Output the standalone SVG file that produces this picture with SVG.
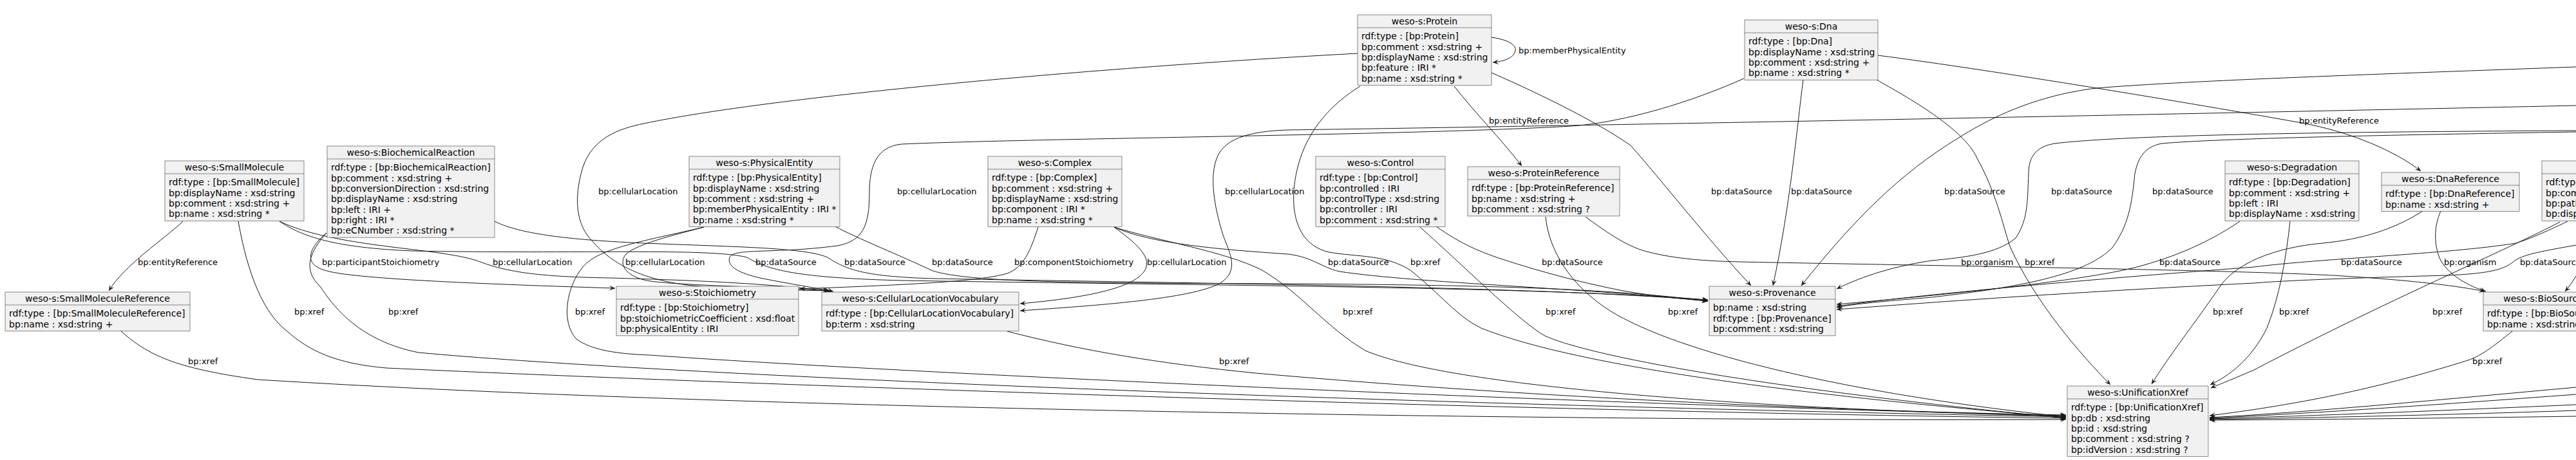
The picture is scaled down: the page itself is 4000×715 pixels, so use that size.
<svg xmlns="http://www.w3.org/2000/svg" width="4000" height="715" viewBox="0 0 4000 715">
<defs>
<style>
.nd rect{fill:#F1F1F1;stroke:#181818;stroke-width:0.5}
.nd line{stroke:#181818;stroke-width:0.5}
.hd{font-family:"DejaVu Sans",sans-serif;font-size:14px;text-anchor:middle;fill:#000}
.at{font-family:"DejaVu Sans",sans-serif;font-size:14px;fill:#000}
.e{fill:none;stroke:#181818;stroke-width:1;marker-end:url(#ah)}
.lb{font-family:"DejaVu Sans",sans-serif;font-size:13px;fill:#000}
</style>
<marker id="ah" viewBox="-10 -5 11 10" refX="0" refY="0" markerWidth="11" markerHeight="10" markerUnits="userSpaceOnUse" orient="auto">
<path d="M0,0 L-9,-4 L-5,0 L-9,4 Z" fill="#181818"/>
</marker>
</defs>
<rect x="0" y="0" width="4000" height="715" fill="#FFFFFF"/>

<g id="connectors">
<path class="e" d="M284,344 C255,372 195,410 169,452"/>
<path class="e" d="M187,514 C230,552 270,572 400,590 C1200,640 2600,655 3208,652"/>
<path class="e" d="M370,344 C380,400 400,480 446,515 C480,545 520,565 600,572 C1200,600 2400,640 3208,650"/>
<path class="e" d="M507,362 C480,392 470,420 497,445 C520,480 560,530 650,548 C1000,580 2000,625 3208,648"/>
<path class="e" d="M507,362 C480,385 470,410 504,420 C540,432 700,440 955,448"/>
<path class="e" d="M434,344 C470,368 520,385 640,390 C900,395 1100,385 1160,400 C1195,422 1250,432 1400,436 C1900,444 2400,446 2652,466"/>
<path class="e" d="M768,344 C800,360 860,372 1000,378 C1150,384 1250,385 1285,400 C1315,420 1345,430 1450,433 C1900,441 2400,446 2652,467"/>
<path class="e" d="M1297,352 C1330,370 1400,398 1446,420 C1500,440 1700,440 2000,441 C2300,443 2500,448 2652,468"/>
<path class="e" d="M1730,353 C1790,380 1900,388 2000,395 C2040,400 2050,415 2080,422 C2200,440 2450,447 2652,468"/>
<path class="e" d="M2230,352 C2270,380 2300,392 2330,402 C2400,425 2460,440 2520,452 C2580,462 2620,465 2652,468"/>
<path class="e" d="M434,344 C520,385 680,385 740,405 C780,420 820,430 946,432 C1100,436 1200,442 1286,452"/>
<path class="e" d="M1093,353 C1060,362 990,378 972,395 C958,412 975,432 1010,437 C1060,444 1200,446 1288,452"/>
<path class="e" d="M1093,353 C1000,375 930,385 905,415 C880,445 870,500 895,527 C920,545 960,550 1010,552 C1400,580 2500,630 3208,646"/>
<path class="e" d="M2108,83 C1700,105 1200,150 1000,192 C960,200 920,215 905,260 C890,310 895,350 920,375 C950,410 1000,440 1100,446 C1180,450 1240,451 1290,452"/>
<path class="e" d="M2708,122 C2600,170 2500,192 2440,196 C2200,210 1600,215 1400,224 C1360,228 1350,260 1350,300 C1350,350 1340,375 1300,382 C1200,395 1140,385 1133,400 C1128,415 1150,425 1180,432 C1230,442 1270,448 1294,453"/>
<path class="e" d="M4000,164 C3500,175 2500,195 2000,202 C1940,204 1910,215 1895,235 C1875,265 1885,320 1899,365 C1910,395 1925,420 1895,440 C1850,465 1700,475 1584,483"/>
<path class="e" d="M1730,353 C1760,375 1785,395 1780,415 C1772,440 1720,460 1584,472"/>
<path class="e" d="M1612,353 C1600,390 1590,415 1564,425 C1520,438 1400,443 1242,449"/>
<path class="e" d="M1730,353 C1800,375 1900,390 1960,420 C2020,455 2060,510 2120,545 C2250,600 2700,635 3208,647"/>
<path class="e" d="M1564,515 C1680,545 1800,565 1950,580 C2400,620 2900,640 3208,645"/>
<path class="e" d="M2316,58 C2345,62 2355,72 2353,78 C2352,88 2340,95 2318,97"/>
<path class="e" d="M2258,134 C2290,175 2330,215 2363,258"/>
<path class="e" d="M2316,113 C2400,150 2480,190 2532,226 C2580,280 2650,370 2719,444"/>
<path class="e" d="M2112,134 C2070,160 2030,200 2015,260 C2000,320 2010,380 2064,392 C2110,400 2150,395 2190,420 C2240,460 2260,490 2300,510 C2450,570 2800,615 3208,649"/>
<path class="e" d="M2800,124 C2790,200 2780,320 2753,444"/>
<path class="e" d="M2914,124 C2960,150 3050,200 3070,246 C3100,300 3110,350 3121,383 C3160,470 3230,550 3277,598"/>
<path class="e" d="M2916,86 C3100,110 3400,160 3574,191 C3650,205 3720,235 3759,266"/>
<path class="e" d="M2204,352 C2280,420 2360,500 2399,522 C2460,550 2700,600 3208,650"/>
<path class="e" d="M2400,337 C2405,390 2440,445 2500,483 C2600,545 2850,610 3208,648"/>
<path class="e" d="M2462,337 C2500,365 2530,385 2561,392 C2600,402 2650,406 2702,407 C3000,413 3500,420 3638,429 C3750,436 3820,445 3858,453"/>
<path class="e" d="M3478,344 C3440,370 3390,395 3329,412 C3250,436 3000,460 2852,473"/>
<path class="e" d="M3556,344 C3550,400 3540,460 3520,510 C3495,560 3460,585 3432,598"/>
<path class="e" d="M3762,328 C3720,355 3670,372 3606,378 C3530,385 3470,410 3446,447 C3410,500 3370,550 3341,597"/>
<path class="e" d="M3790,328 C3780,350 3778,380 3790,405 C3805,430 3835,445 3860,453"/>
<path class="e" d="M3987,344 C3950,362 3925,372 3907,378 C3800,395 3600,402 3500,415 C3300,430 3000,455 2852,476"/>
<path class="e" d="M3975,345 C3900,385 3700,470 3500,575 C3470,588 3450,596 3433,603"/>
<path class="e" d="M3902,514 C3870,540 3850,555 3829,561 C3720,595 3600,625 3431,646"/>
<path class="e" d="M4000,104 C3700,115 3400,125 3255,137 C3150,150 3080,190 3040,215 C2950,270 2880,340 2797,444"/>
<path class="e" d="M4000,203 C3600,205 3300,210 3191,223 C3160,228 3150,245 3150,270 C3148,310 3150,340 3130,370 C3100,395 3050,400 3000,405 C2930,415 2880,435 2852,449"/>
<path class="e" d="M4000,205 C3700,210 3450,215 3357,223 C3330,228 3320,245 3315,270 C3310,320 3305,350 3280,385 C3240,425 3150,445 3000,462 C2930,468 2880,472 2852,478"/>
<path class="e" d="M4000,381 C3950,390 3920,395 3905,405 C3890,418 3870,425 3800,428 C3650,432 3550,436 3500,440 C3200,455 3000,470 2852,481"/>
<path class="e" d="M4000,429 C3995,437 3990,445 3983,453"/>
<path class="e" d="M4000,602 C3800,620 3600,640 3431,649"/>
<path class="e" d="M4000,613 C3800,628 3600,642 3431,650"/>
<path class="e" d="M4000,629 C3800,638 3600,646 3431,651"/>
<path class="e" d="M4000,638 C3800,645 3600,649 3431,652"/>
<path class="e" d="M4000,647 C3800,650 3600,652 3431,653"/>

<text class="lb" x="214" y="412">bp:entityReference</text>
<text class="lb" x="292" y="566">bp:xref</text>
<text class="lb" x="457" y="489">bp:xref</text>
<text class="lb" x="603" y="489">bp:xref</text>
<text class="lb" x="500" y="412">bp:participantStoichiometry</text>
<text class="lb" x="1173" y="412">bp:dataSource</text>
<text class="lb" x="1311" y="412">bp:dataSource</text>
<text class="lb" x="1447" y="412">bp:dataSource</text>
<text class="lb" x="2062" y="412">bp:dataSource</text>
<text class="lb" x="2394" y="412">bp:dataSource</text>
<text class="lb" x="765" y="412">bp:cellularLocation</text>
<text class="lb" x="971" y="412">bp:cellularLocation</text>
<text class="lb" x="893" y="489">bp:xref</text>
<text class="lb" x="929" y="302">bp:cellularLocation</text>
<text class="lb" x="1393" y="302">bp:cellularLocation</text>
<text class="lb" x="1902" y="302">bp:cellularLocation</text>
<text class="lb" x="1781" y="412">bp:cellularLocation</text>
<text class="lb" x="1575" y="412">bp:componentStoichiometry</text>
<text class="lb" x="2085" y="489">bp:xref</text>
<text class="lb" x="1893" y="566">bp:xref</text>
<text class="lb" x="2358" y="83">bp:memberPhysicalEntity</text>
<text class="lb" x="2312" y="192">bp:entityReference</text>
<text class="lb" x="2657" y="302">bp:dataSource</text>
<text class="lb" x="2190" y="412">bp:xref</text>
<text class="lb" x="2781" y="302">bp:dataSource</text>
<text class="lb" x="3144" y="412">bp:xref</text>
<text class="lb" x="3570" y="192">bp:entityReference</text>
<text class="lb" x="2400" y="489">bp:xref</text>
<text class="lb" x="2590" y="489">bp:xref</text>
<text class="lb" x="3045" y="412">bp:organism</text>
<text class="lb" x="3353" y="412">bp:dataSource</text>
<text class="lb" x="3539" y="489">bp:xref</text>
<text class="lb" x="3436" y="489">bp:xref</text>
<text class="lb" x="3795" y="412">bp:organism</text>
<text class="lb" x="3635" y="412">bp:dataSource</text>
<text class="lb" x="3777" y="489">bp:xref</text>
<text class="lb" x="3839" y="566">bp:xref</text>
<text class="lb" x="3019" y="302">bp:dataSource</text>
<text class="lb" x="3185" y="302">bp:dataSource</text>
<text class="lb" x="3342" y="302">bp:dataSource</text>
<text class="lb" x="3913" y="412">bp:dataSource</text>
</g>

<g id="SmallMolecule" class="nd">
<rect x="256" y="250" width="216" height="93.2"/><line x1="256" y1="270" x2="472" y2="270"/>
<text class="hd" x="364" y="265">weso-s:SmallMolecule</text>
<text class="at" x="262" y="288.3">rdf:type : [bp:SmallMolecule]</text>
<text class="at" x="262" y="304.6">bp:displayName : xsd:string</text>
<text class="at" x="262" y="320.9">bp:comment : xsd:string +</text>
<text class="at" x="262" y="337.2">bp:name : xsd:string *</text>
</g>

<g id="BiochemicalReaction" class="nd">
<rect x="508" y="227" width="260" height="142.1"/><line x1="508" y1="247" x2="768" y2="247"/>
<text class="hd" x="638" y="242">weso-s:BiochemicalReaction</text>
<text class="at" x="514" y="265.3">rdf:type : [bp:BiochemicalReaction]</text>
<text class="at" x="514" y="281.6">bp:comment : xsd:string +</text>
<text class="at" x="514" y="297.9">bp:conversionDirection : xsd:string</text>
<text class="at" x="514" y="314.2">bp:displayName : xsd:string</text>
<text class="at" x="514" y="330.5">bp:left : IRI +</text>
<text class="at" x="514" y="346.8">bp:right : IRI *</text>
<text class="at" x="514" y="363.1">bp:eCNumber : xsd:string *</text>
</g>

<g id="SmallMoleculeReference" class="nd">
<rect x="8" y="454" width="287" height="60.6"/><line x1="8" y1="474" x2="295" y2="474"/>
<text class="hd" x="151.5" y="469">weso-s:SmallMoleculeReference</text>
<text class="at" x="14" y="492.3">rdf:type : [bp:SmallMoleculeReference]</text>
<text class="at" x="14" y="508.6">bp:name : xsd:string +</text>
</g>

<g id="Stoichiometry" class="nd">
<rect x="957" y="445" width="283" height="76.9"/><line x1="957" y1="465" x2="1240" y2="465"/>
<text class="hd" x="1098.5" y="460">weso-s:Stoichiometry</text>
<text class="at" x="963" y="483.3">rdf:type : [bp:Stoichiometry]</text>
<text class="at" x="963" y="499.6">bp:stoichiometricCoefficient : xsd:float</text>
<text class="at" x="963" y="515.9">bp:physicalEntity : IRI</text>
</g>

<g id="PhysicalEntity" class="nd">
<rect x="1070" y="243" width="234" height="109.5"/><line x1="1070" y1="263" x2="1304" y2="263"/>
<text class="hd" x="1187" y="258">weso-s:PhysicalEntity</text>
<text class="at" x="1076" y="281.3">rdf:type : [bp:PhysicalEntity]</text>
<text class="at" x="1076" y="297.6">bp:displayName : xsd:string</text>
<text class="at" x="1076" y="313.9">bp:comment : xsd:string +</text>
<text class="at" x="1076" y="330.2">bp:memberPhysicalEntity : IRI *</text>
<text class="at" x="1076" y="346.5">bp:name : xsd:string *</text>
</g>

<g id="Complex" class="nd">
<rect x="1534" y="243" width="208" height="109.5"/><line x1="1534" y1="263" x2="1742" y2="263"/>
<text class="hd" x="1638" y="258">weso-s:Complex</text>
<text class="at" x="1540" y="281.3">rdf:type : [bp:Complex]</text>
<text class="at" x="1540" y="297.6">bp:comment : xsd:string +</text>
<text class="at" x="1540" y="313.9">bp:displayName : xsd:string</text>
<text class="at" x="1540" y="330.2">bp:component : IRI *</text>
<text class="at" x="1540" y="346.5">bp:name : xsd:string *</text>
</g>

<g id="CellularLocationVocabulary" class="nd">
<rect x="1276" y="454" width="306" height="60.6"/><line x1="1276" y1="474" x2="1582" y2="474"/>
<text class="hd" x="1429" y="469">weso-s:CellularLocationVocabulary</text>
<text class="at" x="1282" y="492.3">rdf:type : [bp:CellularLocationVocabulary]</text>
<text class="at" x="1282" y="508.6">bp:term : xsd:string</text>
</g>

<g id="Protein" class="nd">
<rect x="2108" y="23" width="208" height="109.5"/><line x1="2108" y1="43" x2="2316" y2="43"/>
<text class="hd" x="2212" y="38">weso-s:Protein</text>
<text class="at" x="2114" y="61.3">rdf:type : [bp:Protein]</text>
<text class="at" x="2114" y="77.6">bp:comment : xsd:string +</text>
<text class="at" x="2114" y="93.9">bp:displayName : xsd:string</text>
<text class="at" x="2114" y="110.2">bp:feature : IRI *</text>
<text class="at" x="2114" y="126.5">bp:name : xsd:string *</text>
</g>

<g id="Dna" class="nd">
<rect x="2709" y="31" width="207" height="93.2"/><line x1="2709" y1="51" x2="2916" y2="51"/>
<text class="hd" x="2812.5" y="46">weso-s:Dna</text>
<text class="at" x="2715" y="69.3">rdf:type : [bp:Dna]</text>
<text class="at" x="2715" y="85.6">bp:displayName : xsd:string</text>
<text class="at" x="2715" y="101.9">bp:comment : xsd:string +</text>
<text class="at" x="2715" y="118.2">bp:name : xsd:string *</text>
</g>

<g id="Control" class="nd">
<rect x="2043" y="243" width="201" height="109.5"/><line x1="2043" y1="263" x2="2244" y2="263"/>
<text class="hd" x="2143.5" y="258">weso-s:Control</text>
<text class="at" x="2049" y="281.3">rdf:type : [bp:Control]</text>
<text class="at" x="2049" y="297.6">bp:controlled : IRI</text>
<text class="at" x="2049" y="313.9">bp:controlType : xsd:string</text>
<text class="at" x="2049" y="330.2">bp:controller : IRI</text>
<text class="at" x="2049" y="346.5">bp:comment : xsd:string *</text>
</g>

<g id="ProteinReference" class="nd">
<rect x="2279" y="259" width="236" height="76.9"/><line x1="2279" y1="279" x2="2515" y2="279"/>
<text class="hd" x="2397" y="274">weso-s:ProteinReference</text>
<text class="at" x="2285" y="297.3">rdf:type : [bp:ProteinReference]</text>
<text class="at" x="2285" y="313.6">bp:name : xsd:string +</text>
<text class="at" x="2285" y="329.9">bp:comment : xsd:string ?</text>
</g>

<g id="Provenance" class="nd">
<rect x="2654" y="445" width="196" height="76.9"/><line x1="2654" y1="465" x2="2850" y2="465"/>
<text class="hd" x="2752" y="460">weso-s:Provenance</text>
<text class="at" x="2660" y="483.3">bp:name : xsd:string</text>
<text class="at" x="2660" y="499.6">rdf:type : [bp:Provenance]</text>
<text class="at" x="2660" y="515.9">bp:comment : xsd:string</text>
</g>

<g id="Degradation" class="nd">
<rect x="3455" y="250" width="208" height="93.2"/><line x1="3455" y1="270" x2="3663" y2="270"/>
<text class="hd" x="3559" y="265">weso-s:Degradation</text>
<text class="at" x="3461" y="288.3">rdf:type : [bp:Degradation]</text>
<text class="at" x="3461" y="304.6">bp:comment : xsd:string +</text>
<text class="at" x="3461" y="320.9">bp:left : IRI</text>
<text class="at" x="3461" y="337.2">bp:displayName : xsd:string</text>
</g>

<g id="DnaReference" class="nd">
<rect x="3698" y="268" width="214" height="60.6"/><line x1="3698" y1="288" x2="3912" y2="288"/>
<text class="hd" x="3805" y="283">weso-s:DnaReference</text>
<text class="at" x="3704" y="306.3">rdf:type : [bp:DnaReference]</text>
<text class="at" x="3704" y="322.6">bp:name : xsd:string +</text>
</g>

<g id="Pathway" class="nd">
<rect x="3947" y="250" width="230" height="93.2"/><line x1="3947" y1="270" x2="4177" y2="270"/>
<text class="at" x="3953" y="288.3">rdf:type : [bp:Pathway]</text>
<text class="at" x="3953" y="304.6">bp:comment : xsd:string</text>
<text class="at" x="3953" y="320.9">bp:pathwayComponent : IRI</text>
<text class="at" x="3953" y="337.2">bp:displayName : xsd:string</text>
</g>

<g id="BioSource" class="nd">
<rect x="3856" y="454" width="186" height="60.6"/><line x1="3856" y1="474" x2="4042" y2="474"/>
<text class="hd" x="3949" y="469">weso-s:BioSource</text>
<text class="at" x="3862" y="492.3">rdf:type : [bp:BioSource]</text>
<text class="at" x="3862" y="508.6">bp:name : xsd:string</text>
</g>

<g id="UnificationXref" class="nd">
<rect x="3210" y="600" width="219" height="109.5"/><line x1="3210" y1="620" x2="3429" y2="620"/>
<text class="hd" x="3319.5" y="615">weso-s:UnificationXref</text>
<text class="at" x="3216" y="638.3">rdf:type : [bp:UnificationXref]</text>
<text class="at" x="3216" y="654.6">bp:db : xsd:string</text>
<text class="at" x="3216" y="670.9">bp:id : xsd:string</text>
<text class="at" x="3216" y="687.2">bp:comment : xsd:string ?</text>
<text class="at" x="3216" y="703.5">bp:idVersion : xsd:string ?</text>
</g>
</svg>
